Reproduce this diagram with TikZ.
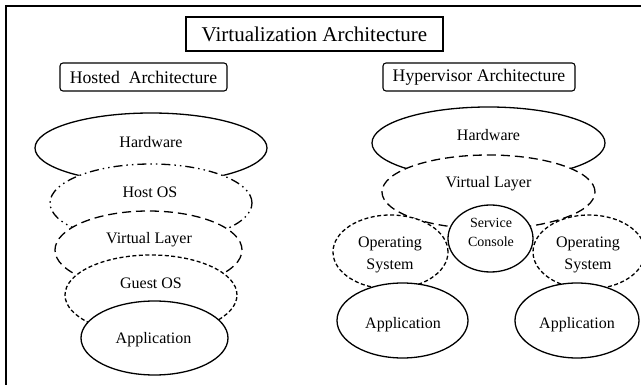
\documentclass[tikz,border=0pt]{standalone}
\usepackage{fontspec}
\setmainfont{Liberation Serif}
\usetikzlibrary{shapes.geometric}
\begin{document}
\begin{tikzpicture}[x=1pt,y=-1pt,
  lay/.style={ellipse, draw, fill=white, line width=1.3pt, inner sep=0pt},
  solidlay/.style={lay},
  dashdotdot/.style={lay, dash pattern=on 9pt off 4pt on 1.5pt off 4pt on 1.5pt off 4pt},
  longdash/.style={lay, dash pattern=on 9pt off 5pt},
  shortdash/.style={lay, dash pattern=on 4pt off 2.5pt},
  lbl/.style={anchor=base, inner sep=0pt, font=\fontsize{16}{18}\selectfont},
  smalllbl/.style={anchor=base, inner sep=0pt, font=\fontsize{14}{16}\selectfont},
  headbox/.style={draw, line width=1.1pt, rounded corners=3pt, minimum height=28pt, inner sep=0pt, font=\fontsize{17.7}{20}\selectfont},
  titlebox/.style={draw, line width=1.2pt, minimum height=34pt, inner sep=0pt, font=\fontsize{21}{24}\selectfont}
]
\useasboundingbox (0,0) rectangle (641,385);
\fill[white] (0,0) rectangle (641,385);
\draw[line width=1.8pt] (6,392) -- (6,6) -- (648,6);

% titles
\node[titlebox, minimum width=257pt] (title) at (314.5,34) {Virtualization Architecture};
\node[headbox, minimum width=167pt] (hosted) at (143.5,77) {Hosted\ \ Architecture};
\node[headbox, minimum width=192pt] (hyper) at (479,77) {Hypervisor Architecture};

% hosted stack
\node[solidlay, minimum width=232pt, minimum height=70pt] (hw) at (151,148) {};
\node[dashdotdot, minimum width=202pt, minimum height=78pt] (host) at (151,203) {};
\node[longdash, minimum width=187pt, minimum height=78pt] (vl) at (148.5,250) {};
\node[shortdash, minimum width=172pt, minimum height=80pt] (guest) at (151,295) {};
\node[solidlay, minimum width=147pt, minimum height=74pt] (app) at (154.5,338) {};

% hypervisor stack
\node[solidlay, minimum width=233pt, minimum height=72pt] (hw2) at (488.5,143) {};
\node[longdash, minimum width=213pt, minimum height=74pt] (vl2) at (488.5,192) {};
\node[solidlay, minimum width=85pt, minimum height=67pt] (sc) at (490.5,238.5) {};
\node[shortdash, minimum width=115pt, minimum height=74pt] (os1) at (390.5,252) {};
\node[shortdash, minimum width=112pt, minimum height=74pt] (os2) at (589,252) {};
\node[solidlay, minimum width=131pt, minimum height=75pt] (app1) at (402.5,320.5) {};
\node[solidlay, minimum width=124pt, minimum height=75pt] (app2) at (577,320.5) {};

% labels
\node[lbl] (thw) at (151,148) {Hardware};
\node[lbl] (thost) at (150,197.5) {Host OS};
\node[lbl] (tvl) at (149,243.5) {Virtual Layer};
\node[lbl] (tguest) at (151,288.5) {Guest OS};
\node[lbl] (tapp) at (153.5,343.5) {Application};

\node[lbl] (thw2) at (488.5,140.5) {Hardware};
\node[lbl] (tvl2) at (488.5,187.5) {Virtual Layer};
\node[smalllbl] (tsc1) at (491,228) {Service};
\node[smalllbl] (tsc2) at (491,247) {Console};
\node[lbl] (tos1a) at (390,248) {Operating};
\node[lbl] (tos1b) at (390,270) {System};
\node[lbl] (tos2a) at (588,248) {Operating};
\node[lbl] (tos2b) at (588,270) {System};
\node[lbl] (tapp1) at (403,328.5) {Application};
\node[lbl] (tapp2) at (577,328.5) {Application};
\end{tikzpicture}
\end{document}
